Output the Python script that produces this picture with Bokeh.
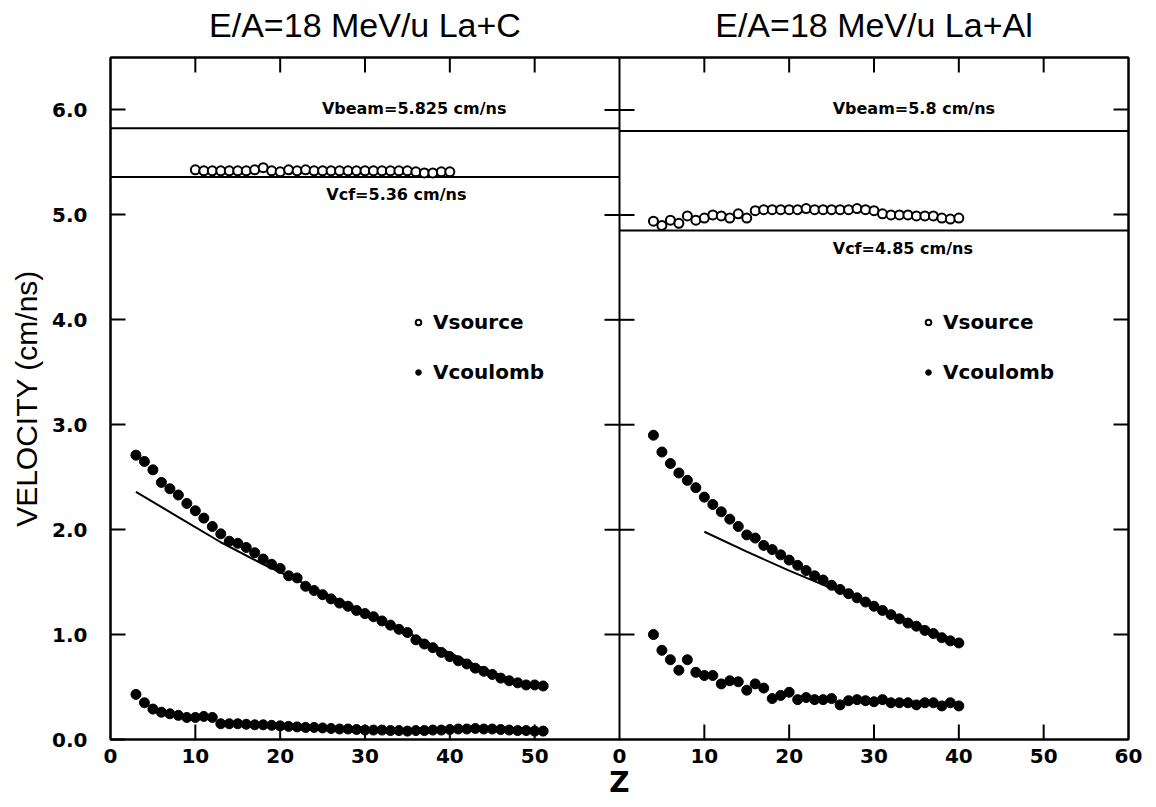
from bokeh.plotting import figure
from bokeh.models import Range1d, LinearAxis, FixedTicker, Label, Legend, LegendItem, Span
from bokeh.embed import file_html
from bokeh.resources import INLINE

# ---------------- data ----------------
# La + C (left panel)
z_src_c = list(range(10, 41))
v_src_c = [5.43, 5.42, 5.42, 5.42, 5.42, 5.42, 5.42, 5.43, 5.45, 5.42,
           5.41, 5.43, 5.42, 5.43, 5.42, 5.42, 5.42, 5.42, 5.42, 5.42,
           5.42, 5.42, 5.42, 5.42, 5.42, 5.42, 5.41, 5.40, 5.40, 5.41, 5.41]

z_coul_c = list(range(3, 52))
v_coul_hi_c = [2.71, 2.65, 2.57, 2.45, 2.39, 2.33, 2.25, 2.18, 2.11, 2.03,
               1.96, 1.89, 1.87, 1.83, 1.78, 1.72, 1.67, 1.63, 1.56, 1.54,
               1.46, 1.42, 1.38, 1.34, 1.30, 1.27, 1.23, 1.20, 1.17, 1.13,
               1.09, 1.05, 1.02, 0.95, 0.91, 0.875, 0.83, 0.79, 0.75, 0.72,
               0.68, 0.65, 0.62, 0.585, 0.56, 0.54, 0.52, 0.52, 0.51]
v_coul_lo_c = [0.43, 0.35, 0.29, 0.26, 0.245, 0.23, 0.21, 0.21, 0.22, 0.21,
               0.15, 0.15, 0.15, 0.145, 0.14, 0.14, 0.135, 0.13, 0.125, 0.12,
               0.115, 0.115, 0.11, 0.105, 0.10, 0.10, 0.095, 0.09, 0.09, 0.09,
               0.085, 0.085, 0.08, 0.085, 0.085, 0.09, 0.09, 0.095, 0.10, 0.10,
               0.105, 0.10, 0.10, 0.095, 0.09, 0.085, 0.085, 0.08, 0.08]
z_theo_c = [3, 8, 13, 18, 23, 28, 33, 38, 43, 48]
v_theo_c = [2.36, 2.12, 1.88, 1.67, 1.48, 1.29, 1.10, 0.90, 0.71, 0.54]
vbeam_c = 5.825
vcf_c = 5.36

# La + Al (right panel)
z_al = list(range(4, 41))
v_src_al = [4.94, 4.90, 4.95, 4.92, 4.99, 4.95, 4.97, 5.00, 4.99, 4.97,
            5.01, 4.97, 5.04, 5.05, 5.05, 5.05, 5.05, 5.05, 5.06, 5.05,
            5.05, 5.05, 5.05, 5.05, 5.06, 5.05, 5.04, 5.01, 5.00, 5.00,
            5.00, 4.99, 4.99, 4.99, 4.97, 4.96, 4.97]
v_coul_hi_al = [2.90, 2.74, 2.63, 2.54, 2.47, 2.40, 2.31, 2.24, 2.17, 2.10,
                2.03, 1.95, 1.92, 1.85, 1.81, 1.76, 1.71, 1.66, 1.61, 1.56,
                1.52, 1.47, 1.43, 1.39, 1.35, 1.31, 1.27, 1.23, 1.19, 1.15,
                1.11, 1.08, 1.04, 1.01, 0.97, 0.94, 0.92]
v_coul_lo_al = [1.00, 0.85, 0.76, 0.66, 0.76, 0.64, 0.61, 0.61, 0.53, 0.56,
                0.55, 0.47, 0.53, 0.49, 0.39, 0.42, 0.45, 0.38, 0.40, 0.38,
                0.38, 0.39, 0.33, 0.37, 0.38, 0.37, 0.36, 0.38, 0.35, 0.35,
                0.35, 0.33, 0.35, 0.35, 0.32, 0.35, 0.32]
z_theo_al = [10, 15, 20, 25, 30, 35, 40]
v_theo_al = [1.98, 1.79, 1.61, 1.44, 1.27, 1.10, 0.93]
vbeam_al = 5.8
vcf_al = 4.85

# ticks / labels
panel_width = 60
x_tick_labels_left = ["0", "10", "20", "30", "40", "50"]
x_tick_labels_right = ["0", "10", "20", "30", "40", "50", "60"]
y_ticks = [0, 1, 2, 3, 4, 5, 6]
y_tick_labels = ["0.0", "1.0", "2.0", "3.0", "4.0", "5.0", "6.0"]
titles = ["E/A=18 MeV/u La+C", "E/A=18 MeV/u La+Al"]

FONT = "Liberation Sans"
BOLD_FONT = "DejaVu Sans"

Y_MAX = 6.5
FRAME_W = 1018
FRAME_H = 682
TICK_PX = 15

# ---------------- figure ----------------
p = figure(width=1156, height=807, output_backend="svg", toolbar_location=None,
           x_range=Range1d(0, 2 * panel_width), y_range=Range1d(0, Y_MAX),
           x_axis_location=None, y_axis_location=None,
           min_border_left=110, min_border_right=28, min_border_top=57,
           min_border_bottom=68)
p.extra_x_ranges = {"right": Range1d(-panel_width, panel_width)}
p.xgrid.visible = False
p.ygrid.visible = False
p.outline_line_color = "black"
p.outline_line_width = 2
p.background_fill_color = "white"
p.border_fill_color = "white"


def style_axis(ax, show_labels=True):
    ax.axis_line_width = 2
    ax.axis_line_color = "black"
    ax.major_tick_in = TICK_PX
    ax.major_tick_out = 0
    ax.major_tick_line_width = 2
    ax.major_tick_line_color = "black"
    ax.minor_tick_line_color = None
    ax.major_label_text_font = BOLD_FONT
    ax.major_label_text_font_style = "bold"
    ax.major_label_text_font_size = "20px"
    ax.major_label_text_color = "black"
    ax.axis_label_text_color = "black"
    if not show_labels:
        ax.major_label_text_font_size = "0px"
        ax.major_label_text_alpha = 0


# bottom axis: both panels (labels only; tick marks drawn below as segments)
x_ticks = [float(t) for t in x_tick_labels_left] + \
          [panel_width + float(t) for t in x_tick_labels_right]
x_over = {}
for t in x_tick_labels_left:
    x_over[float(t)] = t
for t in x_tick_labels_right:
    x_over[panel_width + float(t)] = t
xb = LinearAxis(ticker=FixedTicker(ticks=x_ticks), major_label_overrides=x_over,
                axis_label="Z")
style_axis(xb)
xb.major_tick_in = 0
xb.major_label_standoff = 9
xb.axis_label_standoff = 0
xb.axis_label_text_font = BOLD_FONT
xb.axis_label_text_font_style = "bold"
xb.axis_label_text_font_size = "28px"
p.add_layout(xb, "below")

# top axis: the panel titles written over the panel centres
top_ticks = [t for t in x_ticks if t not in (0, panel_width, 2 * panel_width)]
panel_centres = [panel_width / 2, panel_width * 1.5]
top_over = {c: ttl for c, ttl in zip(panel_centres, titles)}
xt = LinearAxis(ticker=FixedTicker(ticks=panel_centres), major_label_overrides=top_over)
style_axis(xt)
xt.major_tick_in = 0
xt.major_label_text_font = FONT
xt.major_label_text_font_style = "normal"
xt.major_label_text_font_size = "34px"
xt.major_label_standoff = 14
p.add_layout(xt, "above")

# left axis
yl = LinearAxis(ticker=FixedTicker(ticks=y_ticks),
                major_label_overrides={t: s for t, s in zip(y_ticks, y_tick_labels)},
                axis_label="VELOCITY (cm/ns)")
style_axis(yl)
yl.major_label_standoff = 23
yl.axis_label_standoff = 6
yl.axis_label_text_font = FONT
yl.axis_label_text_font_style = "normal"
yl.axis_label_text_font_size = "30px"
p.add_layout(yl, "left")

# right axis (ticks only)
yr = LinearAxis(ticker=FixedTicker(ticks=y_ticks[1:]))
style_axis(yr, False)
p.add_layout(yr, "right")

# inward x tick marks along bottom and top edges
tick_dy = TICK_PX * Y_MAX / FRAME_H
p.segment(x0=top_ticks, x1=top_ticks, y0=[0.0] * len(top_ticks),
          y1=[tick_dy] * len(top_ticks), line_color="black", line_width=2)
p.segment(x0=top_ticks, x1=top_ticks, y0=[Y_MAX] * len(top_ticks),
          y1=[Y_MAX - tick_dy] * len(top_ticks), line_color="black", line_width=2)

# divider between panels with ticks on both sides
p.add_layout(Span(location=panel_width, dimension="height", line_color="black",
                  line_width=2))
half_tick = TICK_PX * (2 * panel_width) / FRAME_W
div_ticks = y_ticks[1:]
p.segment(x0=[panel_width - half_tick] * len(div_ticks),
          x1=[panel_width + half_tick] * len(div_ticks),
          y0=div_ticks, y1=div_ticks, line_color="black", line_width=2)

# ---------------- left panel ----------------
p.segment(x0=0, x1=panel_width, y0=vbeam_c, y1=vbeam_c, line_color="black", line_width=2)
p.segment(x0=0, x1=panel_width, y0=vcf_c, y1=vcf_c, line_color="black", line_width=2)
p.line(z_theo_c, v_theo_c, line_color="black", line_width=2)
r_src_c = p.scatter(z_src_c, v_src_c, marker="circle", size=9, fill_color="white",
                    line_color="black", line_width=2)
r_coul_c = p.scatter(z_coul_c, v_coul_hi_c, marker="circle", size=10,
                     fill_color="black", line_color="black")
p.scatter(z_coul_c, v_coul_lo_c, marker="circle", size=10,
          fill_color="black", line_color="black")

# ---------------- right panel ----------------
p.segment(x0=0, x1=panel_width, y0=vbeam_al, y1=vbeam_al, line_color="black",
          line_width=2, x_range_name="right")
p.segment(x0=0, x1=panel_width, y0=vcf_al, y1=vcf_al, line_color="black",
          line_width=2, x_range_name="right")
p.line(z_theo_al, v_theo_al, line_color="black", line_width=2, x_range_name="right")
r_src_al = p.scatter(z_al, v_src_al, marker="circle", size=9, fill_color="white",
                     line_color="black", line_width=2, x_range_name="right")
r_coul_al = p.scatter(z_al, v_coul_hi_al, marker="circle", size=10,
                      fill_color="black", line_color="black", x_range_name="right")
p.scatter(z_al, v_coul_lo_al, marker="circle", size=10,
          fill_color="black", line_color="black", x_range_name="right")

# ---------------- annotations ----------------
def add_label(x, y, text, size, rng="default"):
    p.add_layout(Label(x=x, y=y, text=text, x_range_name=rng,
                       text_font=BOLD_FONT, text_font_size=size, text_font_style="bold",
                       text_align="center", text_baseline="middle", text_color="black"))


add_label(35.8, 6.01, "Vbeam=%.3f cm/ns" % vbeam_c, "16px")
add_label(33.7, 5.19, "Vcf=%.2f cm/ns" % vcf_c, "16px")
add_label(34.7, 6.01, "Vbeam=%.1f cm/ns" % vbeam_al, "16px", rng="right")
add_label(33.4, 4.68, "Vcf=%.2f cm/ns" % vcf_al, "16px", rng="right")


def add_legend(src_r, coul_r, x):
    leg = Legend(items=[LegendItem(label="Vsource", renderers=[src_r]),
                        LegendItem(label="Vcoulomb", renderers=[coul_r])],
                 location=(x, 354), orientation="vertical",
                 glyph_width=14, glyph_height=26, label_height=26, spacing=24,
                 label_standoff=8, padding=0, margin=0,
                 border_line_alpha=0, background_fill_alpha=0,
                 label_text_font=BOLD_FONT, label_text_font_style="bold",
                 label_text_font_size="20px", label_text_color="black")
    p.add_layout(leg, "center")


add_legend(r_src_c, r_coul_c, 301)
add_legend(r_src_al, r_coul_al, 811)

open("out.html", "w").write(file_html(p, INLINE))
